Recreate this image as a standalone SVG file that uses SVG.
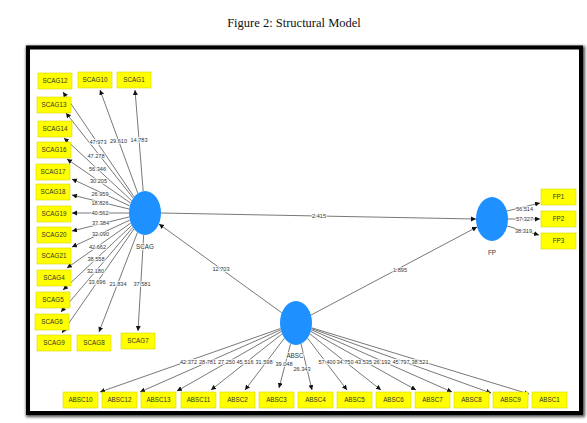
<svg xmlns="http://www.w3.org/2000/svg" width="587" height="423" viewBox="0 0 587 423">
<defs>
<filter id="blur" x="-5%" y="-5%" width="110%" height="110%"><feGaussianBlur stdDeviation="1.6"/></filter>
<marker id="ah" markerUnits="userSpaceOnUse" markerWidth="6" markerHeight="6" refX="5" refY="2.5" orient="auto"><path d="M0,0 L5,2.5 L0,5 Z" fill="#111"/></marker>
</defs>
<style>
.ln{stroke:#555;stroke-width:0.8;fill:none;marker-end:url(#ah)}
.bx{fill:#ffff00;stroke:#d8d800;stroke-width:0.6}
.bt{font-family:"Liberation Sans",Arial,sans-serif;font-size:6.3px;fill:#333;text-anchor:middle}
.lb{font-family:"Liberation Sans",Arial,sans-serif;font-size:5.6px;fill:#333;text-anchor:middle;stroke:#fff;stroke-width:1.5;paint-order:stroke;stroke-linejoin:round}
.nm{font-family:"Liberation Sans",Arial,sans-serif;font-size:6.3px;fill:#333;text-anchor:middle;stroke:#fff;stroke-width:1.5;paint-order:stroke;stroke-linejoin:round}
.lv{fill:#1e90ff}
</style>
<rect width="587" height="423" fill="#fff"/>
<text x="294" y="27" font-family="Liberation Serif, Times New Roman, serif" font-size="12.5" fill="#111" text-anchor="middle">Figure 2: Structural Model</text>
<rect x="29" y="49" width="553" height="365" fill="none" stroke="#000" stroke-width="6" filter="url(#blur)" opacity="0.7"/>
<rect x="28" y="47.5" width="553" height="365.5" fill="#fff" stroke="#000" stroke-width="4"/>

<g id="connectors">
<line class="ln" x1="134.1" y1="196.9" x2="63" y2="92"/>
<line class="ln" x1="137.8" y1="193.3" x2="100" y2="90"/>
<line class="ln" x1="143.2" y1="191.1" x2="135" y2="90"/>
<line class="ln" x1="133.2" y1="198.1" x2="66" y2="113"/>
<line class="ln" x1="131.7" y1="200.7" x2="64" y2="138"/>
<line class="ln" x1="130.7" y1="203.1" x2="67" y2="159"/>
<line class="ln" x1="129.8" y1="205.9" x2="72" y2="179"/>
<line class="ln" x1="129.3" y1="209.1" x2="72" y2="195"/>
<line class="ln" x1="129" y1="213" x2="72" y2="213"/>
<line class="ln" x1="129.3" y1="216.9" x2="72" y2="231"/>
<line class="ln" x1="129.8" y1="220.1" x2="72" y2="247"/>
<line class="ln" x1="130.8" y1="223" x2="67" y2="268"/>
<line class="ln" x1="131.8" y1="225.4" x2="63" y2="290"/>
<line class="ln" x1="132.9" y1="227.3" x2="61" y2="312"/>
<line class="ln" x1="134" y1="228.9" x2="62" y2="333"/>
<line class="ln" x1="137.5" y1="232.4" x2="99" y2="332"/>
<line class="ln" x1="143.7" y1="234.9" x2="138" y2="331"/>

<line class="ln" x1="161" y1="213" x2="476" y2="219"/>
<line class="ln" x1="281.8" y1="312.8" x2="159" y2="224"/>
<line class="ln" x1="310.9" y1="315.1" x2="477" y2="227"/>

<line class="ln" x1="507" y1="211" x2="540" y2="203"/>
<line class="ln" x1="508" y1="219" x2="540" y2="219"/>
<line class="ln" x1="507" y1="226" x2="539" y2="235"/>

<line class="ln" x1="280.5" y1="328.5" x2="100" y2="392"/>
<line class="ln" x1="280.8" y1="329.8" x2="140" y2="392"/>
<line class="ln" x1="281.3" y1="331.5" x2="177" y2="391"/>
<line class="ln" x1="282.1" y1="333.9" x2="211" y2="390"/>
<line class="ln" x1="284.4" y1="338.2" x2="245" y2="390"/>
<line class="ln" x1="290.6" y1="343.7" x2="279" y2="388"/>
<line class="ln" x1="301" y1="343.9" x2="312" y2="390"/>
<line class="ln" x1="307.6" y1="338.2" x2="347" y2="390"/>
<line class="ln" x1="309.9" y1="333.9" x2="381" y2="390"/>
<line class="ln" x1="310.8" y1="331.3" x2="416" y2="390"/>
<line class="ln" x1="311.2" y1="329.7" x2="452" y2="392"/>
<line class="ln" x1="311.5" y1="328.6" x2="491" y2="393"/>
<line class="ln" x1="311.6" y1="327.8" x2="529" y2="394"/>
</g>

<g id="path-labels">
<text class="lb" x="98" y="144">47.973</text>
<text class="lb" x="118.5" y="143">29.610</text>
<text class="lb" x="139" y="142">14.783</text>
<text class="lb" x="96" y="158">47.278</text>
<text class="lb" x="97.5" y="171">56.346</text>
<text class="lb" x="98.5" y="183">30.205</text>
<text class="lb" x="100" y="196">26.959</text>
<text class="lb" x="100" y="205">18.826</text>
<text class="lb" x="100" y="215">40.562</text>
<text class="lb" x="100.5" y="225">37.384</text>
<text class="lb" x="100.5" y="236">32.090</text>
<text class="lb" x="97.5" y="249">42.662</text>
<text class="lb" x="96" y="261">38.558</text>
<text class="lb" x="95.5" y="273">32.180</text>
<text class="lb" x="97" y="284">33.696</text>
<text class="lb" x="118" y="286">21.834</text>
<text class="lb" x="142" y="286">37.581</text>
<text class="lb" x="319" y="218">2.415</text>
<text class="lb" x="221" y="271">12.703</text>
<text class="lb" x="400" y="272">1.895</text>
<text class="lb" x="524.5" y="211">56.514</text>
<text class="lb" x="524.5" y="221">57.327</text>
<text class="lb" x="523.5" y="233">38.319</text>
<text class="lb" x="188.5" y="364">42.372</text>
<text class="lb" x="207.5" y="364">28.781</text>
<text class="lb" x="226.5" y="364">27.250</text>
<text class="lb" x="245" y="364">45.516</text>
<text class="lb" x="264" y="364">31.598</text>
<text class="lb" x="284" y="366">39.048</text>
<text class="lb" x="302" y="371">26.343</text>
<text class="lb" x="327" y="364">57.400</text>
<text class="lb" x="345" y="364">34.750</text>
<text class="lb" x="363.5" y="364">43.535</text>
<text class="lb" x="382" y="364">26.192</text>
<text class="lb" x="401" y="364">45.797</text>
<text class="lb" x="420" y="364">38.521</text>
</g>

<g id="SCAG"><ellipse class="lv" cx="145" cy="213" rx="16" ry="22"/><text class="nm" x="145" y="249">SCAG</text></g>
<g id="FP"><ellipse class="lv" cx="492" cy="219" rx="16" ry="22"/><text class="nm" x="492" y="255">FP</text></g>
<g id="ABSC"><ellipse class="lv" cx="296" cy="323" rx="16" ry="22"/><text class="nm" x="295" y="358">ABSC</text></g>

<g id="SCAG12"><rect class="bx" x="38" y="73" width="34" height="16"/><text class="bt" x="55" y="83.2">SCAG12</text></g>
<g id="SCAG10"><rect class="bx" x="78" y="72" width="34" height="16"/><text class="bt" x="95" y="82.2">SCAG10</text></g>
<g id="SCAG1"><rect class="bx" x="117" y="72" width="34" height="16"/><text class="bt" x="134" y="82.2">SCAG1</text></g>
<g id="SCAG13"><rect class="bx" x="37" y="97" width="34" height="16"/><text class="bt" x="54" y="107.2">SCAG13</text></g>
<g id="SCAG14"><rect class="bx" x="38" y="121" width="34" height="16"/><text class="bt" x="55" y="131.2">SCAG14</text></g>
<g id="SCAG16"><rect class="bx" x="37" y="142" width="34" height="16"/><text class="bt" x="54" y="152.2">SCAG16</text></g>
<g id="SCAG17"><rect class="bx" x="36" y="164" width="34" height="16"/><text class="bt" x="53" y="174.2">SCAG17</text></g>
<g id="SCAG18"><rect class="bx" x="36" y="184" width="34" height="16"/><text class="bt" x="53" y="194.2">SCAG18</text></g>
<g id="SCAG19"><rect class="bx" x="37" y="206" width="34" height="16"/><text class="bt" x="54" y="216.2">SCAG19</text></g>
<g id="SCAG20"><rect class="bx" x="37" y="227" width="34" height="16"/><text class="bt" x="54" y="237.2">SCAG20</text></g>
<g id="SCAG21"><rect class="bx" x="37" y="248" width="34" height="16"/><text class="bt" x="54" y="258.2">SCAG21</text></g>
<g id="SCAG4"><rect class="bx" x="37" y="270" width="34" height="16"/><text class="bt" x="54" y="280.2">SCAG4</text></g>
<g id="SCAG5"><rect class="bx" x="36" y="292" width="34" height="16"/><text class="bt" x="53" y="302.2">SCAG5</text></g>
<g id="SCAG6"><rect class="bx" x="35" y="314" width="34" height="16"/><text class="bt" x="52" y="324.2">SCAG6</text></g>
<g id="SCAG9"><rect class="bx" x="37" y="335" width="34" height="16"/><text class="bt" x="54" y="345.2">SCAG9</text></g>
<g id="SCAG8"><rect class="bx" x="77" y="335" width="34" height="16"/><text class="bt" x="94" y="345.2">SCAG8</text></g>
<g id="SCAG7"><rect class="bx" x="121" y="333" width="34" height="16"/><text class="bt" x="138" y="343.2">SCAG7</text></g>

<g id="FP1"><rect class="bx" x="541" y="189" width="35" height="16"/><text class="bt" x="558.5" y="199.2">FP1</text></g>
<g id="FP2"><rect class="bx" x="541" y="211" width="35" height="16"/><text class="bt" x="558.5" y="221.2">FP2</text></g>
<g id="FP3"><rect class="bx" x="541" y="233" width="35" height="16"/><text class="bt" x="558.5" y="243.2">FP3</text></g>

<g id="ABSC10"><rect class="bx" x="63" y="392" width="35" height="16"/><text class="bt" x="80.5" y="402.2">ABSC10</text></g>
<g id="ABSC12"><rect class="bx" x="102" y="392" width="35" height="16"/><text class="bt" x="119.5" y="402.2">ABSC12</text></g>
<g id="ABSC13"><rect class="bx" x="141" y="392" width="35" height="16"/><text class="bt" x="158.5" y="402.2">ABSC13</text></g>
<g id="ABSC11"><rect class="bx" x="181" y="392" width="35" height="16"/><text class="bt" x="198.5" y="402.2">ABSC11</text></g>
<g id="ABSC2"><rect class="bx" x="220" y="392" width="35" height="16"/><text class="bt" x="237.5" y="402.2">ABSC2</text></g>
<g id="ABSC3"><rect class="bx" x="259" y="392" width="35" height="16"/><text class="bt" x="276.5" y="402.2">ABSC3</text></g>
<g id="ABSC4"><rect class="bx" x="298" y="392" width="35" height="16"/><text class="bt" x="315.5" y="402.2">ABSC4</text></g>
<g id="ABSC5"><rect class="bx" x="337" y="392" width="35" height="16"/><text class="bt" x="354.5" y="402.2">ABSC5</text></g>
<g id="ABSC6"><rect class="bx" x="376" y="392" width="35" height="16"/><text class="bt" x="393.5" y="402.2">ABSC6</text></g>
<g id="ABSC7"><rect class="bx" x="415" y="392" width="35" height="16"/><text class="bt" x="432.5" y="402.2">ABSC7</text></g>
<g id="ABSC8"><rect class="bx" x="454" y="392" width="35" height="16"/><text class="bt" x="471.5" y="402.2">ABSC8</text></g>
<g id="ABSC9"><rect class="bx" x="493" y="392" width="35" height="16"/><text class="bt" x="510.5" y="402.2">ABSC9</text></g>
<g id="ABSC1"><rect class="bx" x="532" y="392" width="35" height="16"/><text class="bt" x="549.5" y="402.2">ABSC1</text></g>
</svg>
